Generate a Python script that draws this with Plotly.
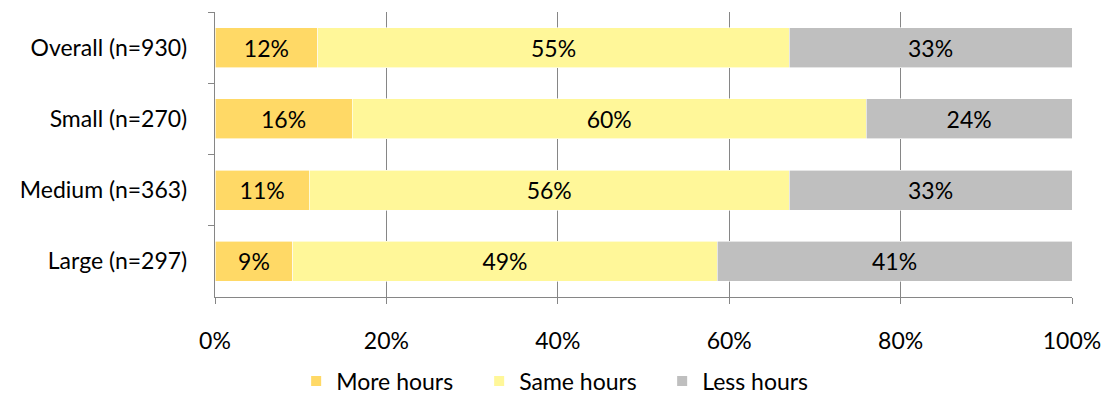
import plotly.graph_objects as go

categories = ["Overall (n=930)", "Small (n=270)", "Medium (n=363)", "Large (n=297)"]
more_hours = [12, 16, 11, 9]
same_hours = [55, 60, 56, 49]
less_hours = [33, 24, 33, 41]
x_ticks = [0, 20, 40, 60, 80, 100]
x_tick_labels = ["0%", "20%", "40%", "60%", "80%", "100%"]

series = [
    ("More hours", more_hours, "#FFD966"),
    ("Same hours", same_hours, "#FFF799"),
    ("Less hours", less_hours, "#BFBFBF"),
]

FONT = "Lato, Calibri, sans-serif"
FSIZE = 23

fig = go.Figure()
for name, vals, color in series:
    fig.add_trace(go.Bar(
        name=name,
        y=categories,
        x=vals,
        orientation="h",
        marker=dict(color=color, line=dict(color="#FFFFFF", width=0.6)),
        text=[f"{v}%" for v in vals],
        texttemplate="%{text}",
        textposition="inside",
        insidetextanchor="middle",
        textfont=dict(family=FONT, size=FSIZE, color="#000000"),
        constraintext="none",
    ))

fig.update_layout(
    barmode="stack",
    barnorm="percent",
    bargap=0.44,
    width=1107,
    height=394,
    margin=dict(l=215, r=35, t=12, b=97, autoexpand=False),
    plot_bgcolor="#FFFFFF",
    paper_bgcolor="#FFFFFF",
    font=dict(family=FONT, size=FSIZE, color="#000000"),
    showlegend=True,
    legend=dict(
        orientation="h",
        x=0.415,
        xanchor="center",
        y=-0.295,
        yanchor="middle",
        font=dict(family=FONT, size=FSIZE, color="#000000"),
        itemsizing="constant",
        traceorder="normal",
        entrywidth=138,
        entrywidthmode="pixels",
    ),
)

fig.update_xaxes(
    range=[0, 100],
    tickvals=x_ticks,
    ticktext=x_tick_labels,
    showgrid=True,
    gridcolor="#868686",
    gridwidth=1.3,
    showline=True,
    linecolor="#868686",
    linewidth=1.3,
    ticks="outside",
    ticklen=6,
    tickcolor="#868686",
    tickwidth=1.3,
    ticklabelstandoff=17,
    zeroline=False,
    automargin=False,
    fixedrange=True,
)

fig.update_yaxes(
    autorange="reversed",
    showline=True,
    linecolor="#868686",
    linewidth=1.3,
    ticks="outside",
    tickson="boundaries",
    ticklen=6,
    tickcolor="#868686",
    tickwidth=1.3,
    ticklabelstandoff=22,
    showgrid=False,
    automargin=False,
    fixedrange=True,
)

fig.write_html("out.html")
